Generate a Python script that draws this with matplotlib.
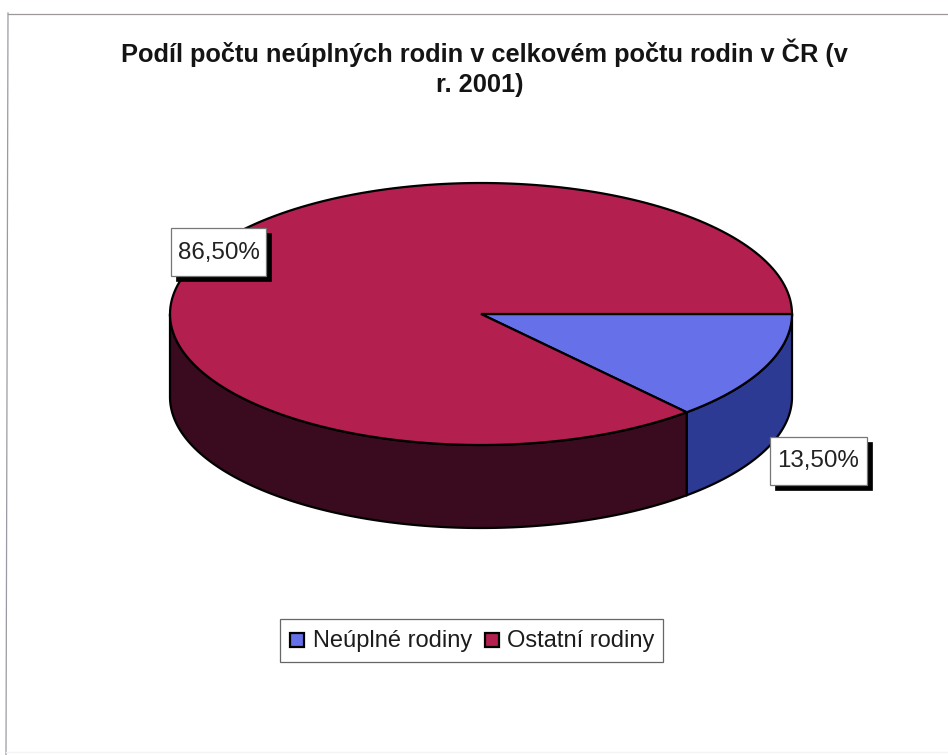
import numpy as np
from matplotlib import pyplot as plt
from matplotlib.patches import Polygon, Rectangle

labels = ['Neúplné rodiny', 'Ostatní rodiny']
shares = [13.5, 86.5]
value_labels = ['13,50%', '86,50%']
top_colors = ['#6670e8', '#b3204f']
side_colors = ['#2d3a94', '#3a0a1e']
title_lines = ['Podíl počtu neúplných rodin v celkovém počtu rodin v ČR (v', 'r. 2001)']

# pie geometry in image pixels
cx, cy = 481, 314
rx, ry = 311, 131
depth = 83

plt.rcParams['font.family'] = ['Liberation Sans', 'DejaVu Sans']

fig = plt.figure(figsize=(9.48, 7.55), dpi=100)
ax = fig.add_axes([0, 0, 1, 1])
ax.set_xlim(0, 948)
ax.set_ylim(755, 0)
ax.axis('off')


def ellipse_pts(a0, a1, dy=0):
    t = np.radians(np.linspace(a0, a1, 200))
    return np.column_stack([cx + rx * np.cos(t), cy + dy + ry * np.sin(t)])


# chart frame, scanned slightly crooked
ax.plot([8, 6], [13, 755], color='#9a9aa4', lw=0.9)
ax.plot([8, 948], [13.5, 13.5], color='#9c9899', lw=0.9)
ax.plot([6, 948], [752, 752], color='#f4f4f4', lw=1)

# walls first, angles run clockwise from 3 o'clock
angles = np.cumsum([0] + shares) * 3.6
for i in range(len(shares)):
    a0, a1 = angles[i], min(angles[i + 1], 180)
    upper = ellipse_pts(a0, a1)
    lower = ellipse_pts(a0, a1, depth)[::-1]
    ax.add_patch(Polygon(np.vstack([upper, lower]), closed=True, fc=side_colors[i],
                         ec='black', lw=1.6, zorder=2))

# top faces
for i in range(len(shares)):
    pts = np.vstack([[cx, cy], ellipse_pts(angles[i], angles[i + 1])])
    ax.add_patch(Polygon(pts, closed=True, fc=top_colors[i], ec='black', lw=1.6, zorder=3))

# value labels with hard shadow
boxes = [(770, 437, 97, 48), (171, 228, 95, 48)]
for (x, y, w, h), txt in zip(boxes, value_labels):
    ax.add_patch(Rectangle((x + 5, y + 5), w, h, fc='black', ec='black', lw=0.5, zorder=4))
    ax.add_patch(Rectangle((x, y), w, h, fc='white', ec='#777777', lw=0.9, zorder=5))
    ax.text(x + w / 2, y + h / 2 + 0.5, txt, ha='center', va='center', fontsize=17.4,
            color='#222222', zorder=6)

# title
ax.text(484.5, 53, title_lines[0], ha='center', va='center', fontsize=18.3, fontweight='bold',
        color='#141414')
ax.text(480, 85, title_lines[1], ha='center', va='center', fontsize=18.3, fontweight='bold',
        color='#141414')

# legend
ax.add_patch(Rectangle((280, 619), 383, 43, fc='white', ec='#666666', lw=0.9))
legend_x = [(290, 313), (485, 507)]
for (sx, tx), lab, col in zip(legend_x, labels, top_colors):
    ax.add_patch(Rectangle((sx, 633), 14, 14, fc=col, ec='black', lw=1.6))
    ax.text(tx, 641, lab, ha='left', va='center', fontsize=17.0, color='#1c1c1c')

fig.savefig('out.png', dpi=100)
